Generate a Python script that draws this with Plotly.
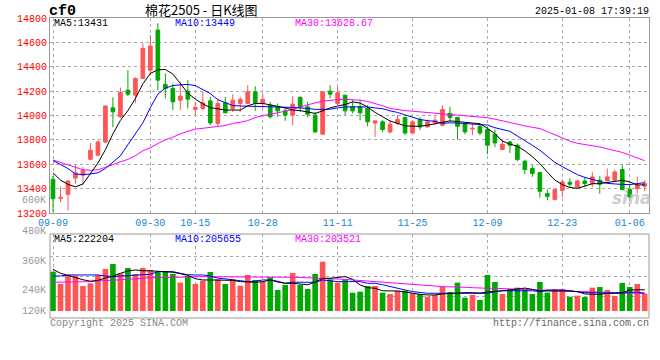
import plotly.graph_objects as go

# ---------------- data ----------------
dates = [
    "2024-09-09", "2024-09-10", "2024-09-11", "2024-09-12", "2024-09-13",
    "2024-09-18", "2024-09-19", "2024-09-20",
    "2024-09-23", "2024-09-24", "2024-09-25", "2024-09-26", "2024-09-27",
    "2024-09-30",
    "2024-10-08", "2024-10-09", "2024-10-10", "2024-10-11",
    "2024-10-14", "2024-10-15", "2024-10-16", "2024-10-17", "2024-10-18",
    "2024-10-21", "2024-10-22", "2024-10-23", "2024-10-24", "2024-10-25",
    "2024-10-28", "2024-10-29", "2024-10-30", "2024-10-31", "2024-11-01",
    "2024-11-04", "2024-11-05", "2024-11-06", "2024-11-07", "2024-11-08",
    "2024-11-11", "2024-11-12", "2024-11-13", "2024-11-14", "2024-11-15",
    "2024-11-18", "2024-11-19", "2024-11-20", "2024-11-21", "2024-11-22",
    "2024-11-25", "2024-11-26", "2024-11-27", "2024-11-28", "2024-11-29",
    "2024-12-02", "2024-12-03", "2024-12-04", "2024-12-05", "2024-12-06",
    "2024-12-09", "2024-12-10", "2024-12-11", "2024-12-12", "2024-12-13",
    "2024-12-16", "2024-12-17", "2024-12-18", "2024-12-19", "2024-12-20",
    "2024-12-23", "2024-12-24", "2024-12-25", "2024-12-26", "2024-12-27",
    "2024-12-30", "2024-12-31", "2025-01-02", "2025-01-03",
    "2025-01-06", "2025-01-07", "2025-01-08",
]

open_ = [13477, 13320, 13353, 13487, 13510, 13641, 13674, 13783, 14063, 13989,
         14208, 14167, 14304, 14372, 14701, 14255, 14222, 14126, 14200, 14050,
         14058, 14120, 13934, 14104, 14058, 14099, 14099, 14194, 14099, 14085,
         14071, 14038, 14003, 14148, 14071, 14003, 13847, 14200, 14099, 14167,
         14071, 14071, 14058, 13939, 13948, 13865, 13934, 13984, 13857, 13967,
         13906, 13939, 13920, 14017, 13984, 13934, 13890, 13912, 13885, 13846,
         13721, 13783, 13756, 13625, 13565, 13532, 13359, 13310, 13386, 13452,
         13413, 13463, 13441, 13469, 13463, 13469, 13557, 13392, 13400, 13419]
high = [13504, 13419, 13470, 13598, 13578, 13775, 13797, 14085, 14148, 14230,
        14372, 14312, 14592, 14660, 14756, 14345, 14263, 14276, 14290, 14112,
        14194, 14153, 14140, 14153, 14173, 14153, 14249, 14241, 14181, 14112,
        14099, 14071, 14159, 14159, 14112, 14030, 14194, 14249, 14235, 14167,
        14126, 14126, 14085, 13956, 13962, 13962, 14003, 13989, 13962, 13989,
        13967, 13994, 14085, 14071, 13990, 13939, 13934, 13934, 13906, 13885,
        13803, 13791, 13770, 13638, 13592, 13537, 13392, 13392, 13474, 13483,
        13474, 13496, 13537, 13502, 13565, 13557, 13592, 13441, 13496, 13469]
low = [13208, 13288, 13222, 13441, 13433, 13633, 13668, 13770, 13904, 13980,
       14159, 14101, 14300, 14330, 14208, 14140, 14044, 14044, 14058, 14003,
       14044, 13920, 13912, 14017, 14030, 14030, 14093, 14038, 14058, 13975,
       13989, 13956, 13920, 14030, 13984, 13857, 13847, 14140, 14085, 14003,
       14017, 13962, 13912, 13824, 13865, 13852, 13920, 13838, 13857, 13879,
       13901, 13920, 13912, 13948, 13803, 13846, 13838, 13838, 13682, 13742,
       13715, 13693, 13625, 13518, 13497, 13326, 13304, 13304, 13331, 13409,
       13409, 13413, 13413, 13359, 13463, 13463, 13386, 13318, 13359, 13378]
close = [13318, 13328, 13463, 13529, 13551, 13715, 13783, 14077, 14030, 14189,
         14175, 14304, 14551, 14570, 14290, 14222, 14112, 14159, 14134, 14066,
         14104, 13939, 14099, 14022, 14126, 14132, 14194, 14104, 14132, 13989,
         14038, 14003, 14093, 14071, 14011, 13865, 14194, 14175, 14186, 14038,
         14038, 14022, 13948, 13956, 13885, 13929, 13967, 13857, 13948, 13906,
         13948, 13962, 14049, 13984, 13912, 13865, 13895, 13857, 13756, 13775,
         13764, 13756, 13638, 13557, 13524, 13378, 13337, 13392, 13455, 13436,
         13463, 13441, 13496, 13436, 13496, 13537, 13392, 13331, 13427, 13441]

ma5 = [13530, 13470, 13435, 13415, 13438, 13520, 13610, 13720, 13850, 13960,
       14040, 14140, 14260, 14345, 14375, 14378, 14340, 14263, 14183, 14135,
       14095, 14065, 14055, 14045, 14045, 14044, 14080, 14099, 14099, 14090,
       14075, 14062, 14045, 14040, 14030, 14017, 14038, 14062, 14078, 14090,
       14112, 14102, 14070, 14025, 13990, 13955, 13936, 13915, 13912, 13912,
       13920, 13932, 13945, 13956, 13950, 13945, 13939, 13932, 13895, 13850,
       13790, 13765, 13748, 13710, 13662, 13606, 13535, 13470, 13433, 13410,
       13402, 13422, 13440, 13441, 13450, 13460, 13468, 13455, 13430, 13431]
ma10 = [13630, 13600, 13565, 13520, 13515, 13520, 13530, 13565, 13615, 13670,
        13760, 13850, 13940, 14065, 14175, 14225, 14245, 14252, 14255, 14245,
        14215, 14180, 14130, 14105, 14082, 14078, 14077, 14078, 14076, 14073,
        14071, 14068, 14066, 14065, 14058, 14050, 14049, 14052, 14062, 14070,
        14071, 14071, 14070, 14062, 14056, 14038, 14025, 14005, 13985, 13967,
        13958, 13952, 13935, 13940, 13938, 13935, 13933, 13929, 13922, 13900,
        13885, 13870, 13832, 13790, 13755, 13715, 13665, 13615, 13580, 13545,
        13515, 13492, 13478, 13460, 13443, 13437, 13434, 13433, 13440, 13449]
ma30 = [13635, 13615, 13595, 13575, 13555, 13550, 13555, 13575, 13600, 13620,
        13640, 13670, 13710, 13735, 13770, 13800, 13822, 13850, 13870, 13888,
        13895, 13900, 13910, 13918, 13935, 13945, 13958, 13984, 14000, 14012,
        14022, 14035, 14050, 14070, 14090, 14104, 14118, 14126, 14130, 14132,
        14130, 14126, 14115, 14099, 14080, 14058, 14048, 14040, 14035, 14030,
        14025, 14020, 14017, 14012, 14007, 14003, 13996, 13989, 13982, 13970,
        13955, 13942, 13928, 13915, 13903, 13893, 13868, 13840, 13815, 13790,
        13772, 13763, 13755, 13742, 13727, 13712, 13697, 13675, 13652, 13629]

volume = [308600, 249600, 292800, 289600, 240000, 252800, 292800, 321600, 345600, 300800,
          326400, 297600, 326400, 316800, 308600, 308600, 297600, 256000, 288000, 249600,
          265600, 307200, 272000, 249600, 272000, 241600, 292800, 268800, 260800, 281600,
          220800, 244800, 302400, 244800, 225600, 297600, 356800, 272000, 256000, 272000,
          208000, 212800, 240000, 240000, 208000, 201600, 217600, 217600, 204800, 201600,
          188800, 196800, 236800, 211200, 256000, 184000, 196800, 172800, 292800, 259200,
          201600, 224000, 232000, 224000, 201600, 259200, 208000, 224000, 224000, 188800,
          193600, 187200, 232000, 235200, 220800, 192000, 254400, 235200, 249600, 203200]

vma5 = [320, 301, 291, 280, 270, 263, 267, 278, 287, 301,
        312, 317, 313, 313, 310, 309, 306, 299, 291, 275,
        269, 269, 269, 269, 267, 261, 258, 258, 261, 269,
        259, 253, 253, 251, 246, 259, 277, 277, 282, 285,
        272, 245, 232, 229, 217, 216, 216, 211, 205, 200,
        197, 197, 202, 205, 208, 208, 208, 206, 211, 213,
        217, 221, 224, 230, 224, 216, 216, 217, 216, 216,
        213, 202, 200, 200, 205, 205, 208, 221, 221, 222.2]
vma10 = [288, 288, 293, 293, 293, 293, 293, 288, 285, 288,
         290, 293, 296, 296, 309, 309, 309, 301, 294, 293,
         293, 288, 278, 274, 270, 264, 261, 263, 269, 269,
         263, 253, 258, 258, 258, 258, 269, 265, 261, 261,
         261, 261, 253, 253, 246, 237, 227, 221, 213, 208,
         205, 205, 205, 205, 205, 205, 205, 202, 205, 213,
         217, 217, 217, 217, 217, 213, 221, 221, 221, 217,
         213, 208, 208, 206, 205, 205, 205, 210, 210, 205.7]
vma30 = [258, 258, 258, 258, 258, 261, 264, 265, 269, 270,
         272, 275, 277, 280, 280, 280, 280, 280, 283, 285,
         285, 285, 285, 285, 285, 285, 285, 285, 285, 285,
         284, 283, 282, 281, 280, 279, 277, 275, 274, 272,
         269, 267, 264, 263, 258, 256, 253, 251, 248, 246,
         243, 240, 237, 237, 235, 234, 232, 229, 229, 229,
         227, 226, 226, 224, 222, 221, 219, 217, 216, 214,
         213, 213, 211, 210, 210, 208, 207, 206, 205, 203.5]

tick_dates = ["2024-09-09", "2024-09-30", "2024-10-15", "2024-10-28", "2024-11-11",
              "2024-11-25", "2024-12-09", "2024-12-23", "2025-01-06"]
tick_labels = ["09-09", "09-30", "10-15", "10-28", "11-11", "11-25", "12-09", "12-23", "01-06"]
price_ticks = [13200, 13400, 13600, 13800, 14000, 14200, 14400, 14600, 14800]
vol_labels = ["600K", "480K", "360K", "240K", "120K"]

# ---------------- style ----------------
RED = "#ff5555"
GREEN = "#00a800"
MONO = "Liberation Mono, DejaVu Sans Mono, monospace"
CJK = "Noto Sans CJK SC"
W, H = 660, 360
L, R = 50, 649


def px(x):
    return (x - L) / (R - L)


def py(y):
    return 1 - y / H


vmin, vpx = 120000, 4800  # volume scale: bar base and units per pixel
vol_top = vmin + (311 - 234) * vpx

fig = go.Figure()

fig.add_trace(go.Candlestick(
    x=dates, open=open_, high=high, low=low, close=close,
    increasing=dict(line=dict(color=RED, width=1), fillcolor=RED),
    decreasing=dict(line=dict(color=GREEN, width=1), fillcolor=GREEN),
    whiskerwidth=0, showlegend=False, hoverinfo="skip",
    xaxis="x", yaxis="y"))

for arr, col in [(ma30, "#ff00ff"), (ma10, "#0000ff"), (ma5, "#000000")]:
    fig.add_trace(go.Scatter(x=dates, y=arr, mode="lines",
                             line=dict(color=col, width=1),
                             showlegend=False, hoverinfo="skip",
                             xaxis="x", yaxis="y"))

bar_colors = [RED if c >= o else GREEN for o, c in zip(open_, close)]
fig.add_trace(go.Bar(x=dates, y=volume, marker=dict(color=bar_colors, line=dict(width=0)),
                     showlegend=False, hoverinfo="skip", xaxis="x2", yaxis="y2"))

for arr, col in [(vma30, "#ff00ff"), (vma10, "#0000ff"), (vma5, "#000000")]:
    fig.add_trace(go.Scatter(x=dates, y=[v * 1000 for v in arr], mode="lines",
                             line=dict(color=col, width=1),
                             showlegend=False, hoverinfo="skip",
                             xaxis="x2", yaxis="y2"))

grid = dict(showgrid=True, gridcolor="#aaaaaa", griddash="dot", gridwidth=1)
xrange = [-0.4, len(dates) - 1 + 0.57]

fig.update_layout(
    width=W, height=H,
    margin=dict(l=L, r=W - R, t=0, b=0, autoexpand=False),
    paper_bgcolor="white", plot_bgcolor="white",
    boxgap=0.3, bargap=0.25,
    showlegend=False, hovermode=False,
    xaxis=dict(type="category", domain=[0, 1], anchor="y", range=xrange,
               tickvals=tick_dates, ticktext=tick_labels, ticks="",
               tickfont=dict(family=MONO, size=10, color="#1a86d0"),
               showline=True, mirror=True, linecolor="#999999", linewidth=1,
               rangeslider=dict(visible=False), zeroline=False, automargin=False, **grid),
    yaxis=dict(domain=[py(213), py(18)], anchor="x", range=[13200, 14800],
               tickvals=price_ticks, ticktext=[str(v) for v in price_ticks], ticks="",
               tickfont=dict(family=MONO, size=10, color="#ff0000"),
               showline=True, mirror=True, linecolor="#999999", linewidth=1,
               zeroline=False, automargin=False, **grid),
    xaxis2=dict(type="category", domain=[0, 1], anchor="y2", range=xrange,
                matches="x", tickvals=tick_dates, showticklabels=False, ticks="",
                showline=False, zeroline=False, automargin=False, **grid),
    yaxis2=dict(domain=[py(311), py(234)], anchor="x2", range=[vmin, vol_top],
                tickvals=[vmin + 15 * vpx, vmin + 35 * vpx, vmin + 55 * vpx],
                showticklabels=False, ticks="", showline=False, zeroline=False,
                automargin=False, **grid),
)

# volume panel frame
fig.add_shape(type="rect", xref="paper", yref="paper", x0=0, x1=1, y0=py(318), y1=py(234),
              line=dict(color="#999999", width=1), fillcolor="rgba(0,0,0,0)", layer="above")


def txt(text, x, y, color="#000000", size=10, anchor="left", family=MONO, **kw):
    fig.add_annotation(text=text, x=px(x), y=py(y), xref="paper", yref="paper",
                       xanchor=anchor, yanchor="middle", showarrow=False,
                       font=dict(family=family, size=size, color=color, **kw))


# header
txt("<b>cf0</b>", 47, 12, size=15)
txt("棉花2505 - 日K线图", 201, 9, size=13, anchor="center", family=CJK)
txt("2025-01-08 17:39:19", 651, 12, anchor="right")

# MA legends
txt("MA5:13431", 52, 24)
txt("MA10:13449", 173, 24, color="#0000ff")
txt("MA30:13628.67", 293, 24, color="#ff00ff")
txt("MA5:222204", 52, 239)
txt("MA10:205655", 173, 239, color="#0000ff")
txt("MA30:203521", 293, 239, color="#ff00ff")

# volume axis labels
for lab, yy in zip(vol_labels, [200, 231, 261, 290, 311]):
    txt(lab, 48, yy, color="#999999", anchor="right")

# footer
txt("Copyright 2025 SINA.COM", 48, 323, color="#888888")
txt("http://finance.sina.com.cn", 651, 323, color="#666666", anchor="right")

# watermark
txt("sina", 632, 198, color="rgba(190,190,190,0.75)", size=17, anchor="center",
    family="DejaVu Sans", style="italic", weight="bold")

fig.write_html("out.html", config={"displayModeBar": False, "staticPlot": True},
               post_script="document.body.style.margin='0';document.body.style.overflow='hidden';")
